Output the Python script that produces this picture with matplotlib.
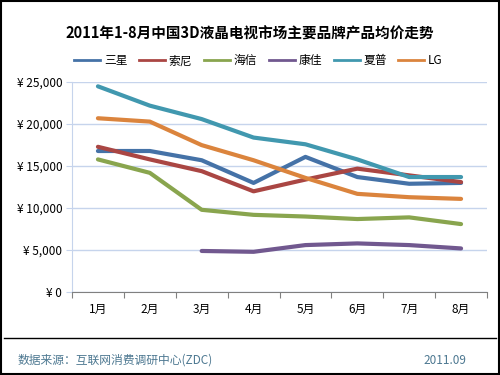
import numpy as np
import matplotlib
matplotlib.use("Agg")
import matplotlib.pyplot as plt
from matplotlib.patches import Rectangle
from matplotlib.lines import Line2D

plt.rcParams['font.family'] = ['Noto Sans CJK SC', 'DejaVu Sans']

# Data (in yuan)
months = ["1月", "2月", "3月", "4月", "5月", "6月", "7月", "8月"]
samsung = [16800, 16800, 15700, 13000, 16100, 13700, 12900, 13000]
sony = [17300, 15800, 14400, 12000, 13400, 14700, 13900, 13100]
hisense = [15800, 14200, 9800, 9200, 9000, 8700, 8900, 8100]
konka = [None, None, 4900, 4800, 5600, 5800, 5600, 5200]
sharp = [24500, 22200, 20600, 18400, 17600, 15800, 13700, 13700]
lg = [20700, 20300, 17500, 15700, 13600, 11700, 11300, 11100]

series = [
    ("三星", samsung, "#4572A7"),
    ("索尼", sony, "#AA4643"),
    ("海信", hisense, "#89A54E"),
    ("康佳", konka, "#71588F"),
    ("夏普", sharp, "#4198AF"),
    ("LG", lg, "#DB843D"),
]
yticks = [0, 5000, 10000, 15000, 20000, 25000]
ytick_labels = ["¥ 0", "¥ 5,000", "¥ 10,000", "¥ 15,000", "¥ 20,000", "¥ 25,000"]

fig = plt.figure(figsize=(5, 3.75), dpi=100)
ax = fig.add_axes([0.144, 0.221, 0.83, 0.560])

x = np.arange(len(months))
for name, vals, color in series:
    y = np.array([np.nan if v is None else v for v in vals], dtype=float)
    ax.plot(x, y, color=color, lw=3, solid_capstyle='round', solid_joinstyle='round', zorder=3)

ax.set_xlim(-0.5, len(months) - 0.5)
ax.set_ylim(0, 25000)
ax.set_yticks(yticks)
ax.set_yticklabels(ytick_labels, fontsize=8.5)
ax.yaxis.grid(True, color="#c6d4ec", lw=1)
ax.set_axisbelow(True)
ax.tick_params(axis='y', length=4, color="#c6d4ec", pad=3)

ax.set_xticks(np.arange(-0.5, len(months), 1.0))
ax.set_xticklabels([])
ax.set_xticks(x, minor=True)
ax.set_xticklabels(months, minor=True, fontsize=8.5)
ax.tick_params(axis='x', which='major', length=4, color="#808080", direction='out')
ax.tick_params(axis='x', which='minor', length=0, pad=8)

for s in ["top", "right"]:
    ax.spines[s].set_visible(False)
ax.spines["left"].set_color("#c6d4ec")
ax.spines["bottom"].set_color("#808080")

# Title and legend
fig.text(0.5, 0.912, "2011年1-8月中国3D液晶电视市场主要品牌产品均价走势",
         ha='center', va='center', fontsize=10.5, fontweight='bold')
handles = [Line2D([0], [0], color=c, lw=2) for _, _, c in series]
fig.legend(handles, [n for n, _, _ in series], loc='center', bbox_to_anchor=(0.517, 0.838),
           ncol=6, frameon=False, fontsize=8.5, handlelength=2.2, columnspacing=1.0,
           handletextpad=0.3)

# Footer
fig.add_artist(Line2D([0.008, 0.992], [0.098, 0.098], color='black', lw=1))
fig.text(0.036, 0.04, "数据来源：互联网消费调研中心(ZDC)", fontsize=8.5, color="#4d7891",
         va='center')
fig.text(0.932, 0.04, "2011.09", fontsize=8.5, color="#4d7891", va='center', ha='right')

# Outer border
fig.add_artist(Rectangle((0.002, 0.003), 0.996, 0.994, fill=False, ec='black', lw=1.5,
                         transform=fig.transFigure))

fig.savefig("out.png", dpi=100)
